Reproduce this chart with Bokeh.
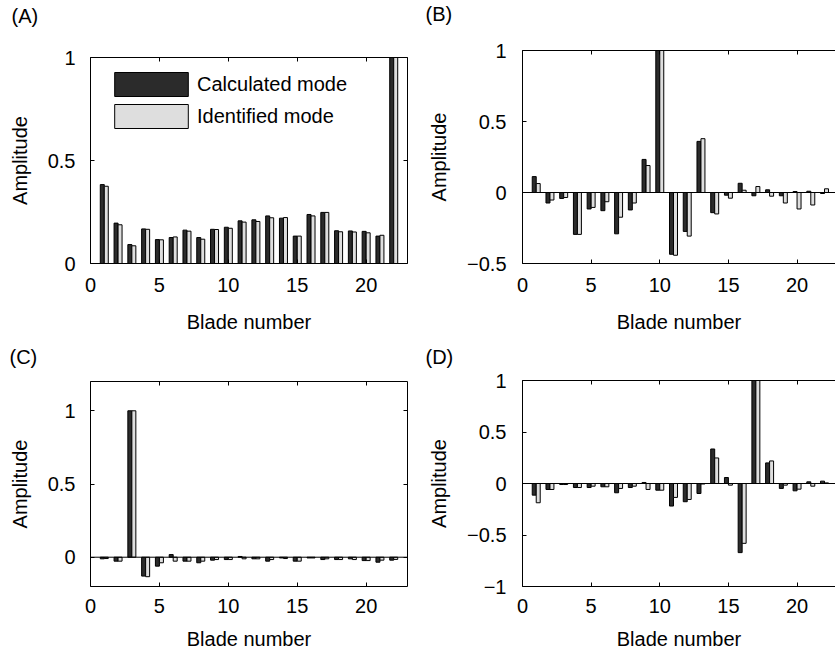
from bokeh.plotting import figure
from bokeh.models import (Range1d, LinearAxis, FixedTicker, Span, Title,
                          Legend, LegendItem, ColumnDataSource, CustomJSTickFormatter)
from bokeh.layouts import column, row
from bokeh.transform import dodge
from bokeh.embed import file_html
from bokeh.resources import INLINE

blades = list(range(1, 23))
x_ticks = [0, 5, 10, 15, 20]

a_calc = [0.383, 0.196, 0.092, 0.168, 0.116, 0.126, 0.162, 0.126, 0.166, 0.176, 0.207,
          0.212, 0.231, 0.220, 0.133, 0.238, 0.248, 0.159, 0.158, 0.156, 0.133, 1.0]
a_ident = [0.375, 0.188, 0.086, 0.166, 0.115, 0.129, 0.157, 0.118, 0.165, 0.171, 0.201,
           0.204, 0.222, 0.223, 0.133, 0.231, 0.248, 0.154, 0.153, 0.149, 0.137, 1.0]

b_calc = [0.112, -0.074, -0.042, -0.295, -0.116, -0.128, -0.291, -0.123, 0.233, 1.0, -0.435,
          -0.274, 0.36, -0.142, -0.019, 0.065, -0.023, 0.019, -0.023, 0.007, 0.009, -0.007]
b_ident = [0.063, -0.053, -0.035, -0.295, -0.105, -0.065, -0.174, -0.074, 0.19, 1.0, -0.442,
           -0.307, 0.379, -0.151, -0.04, 0.016, 0.042, -0.026, -0.074, -0.116, -0.088, 0.026]

c_calc = [-0.011, -0.027, 1.0, -0.129, -0.061, 0.018, -0.027, -0.038, -0.02, -0.016, 0.005,
          -0.011, -0.027, -0.005, -0.027, -0.005, -0.016, -0.016, -0.011, -0.023, -0.034, -0.02]
c_ident = [-0.009, -0.027, 1.0, -0.133, -0.038, -0.027, -0.027, -0.027, -0.016, -0.016, -0.011,
           -0.011, -0.016, -0.009, -0.027, -0.005, -0.011, -0.016, -0.016, -0.023, -0.02, -0.015]

d_calc = [-0.113, -0.058, -0.01, -0.039, -0.039, -0.032, -0.09, -0.039, 0.01, -0.065, -0.219,
          -0.177, -0.097, 0.335, 0.058, -0.671, 1.0, 0.2, -0.048, -0.071, 0.016, 0.023]
d_ident = [-0.187, -0.058, -0.01, -0.039, -0.026, -0.032, -0.048, -0.026, -0.058, -0.065, -0.135,
           -0.155, -0.005, 0.248, -0.016, -0.581, 1.0, 0.219, -0.016, -0.055, -0.026, 0.006]

labels_map = {-1: "\u22121", -0.5: "\u22120.5", 0: "0", 0.5: "0.5", 1: "1"}

FONT = "Liberation Sans"
DARK = "#2b2b2b"
LIGHT = "#dedede"


def style_axis(ax, ticks, standoff, show_labels=True):
    ax.ticker = FixedTicker(ticks=ticks)
    ax.major_tick_in = 4
    ax.major_tick_out = 0
    ax.minor_tick_line_color = None
    ax.axis_line_color = "black"
    ax.major_tick_line_color = "black"
    ax.major_label_text_color = "black"
    ax.major_label_text_font = FONT
    ax.axis_label_text_font = FONT
    ax.axis_label_text_font_style = "normal"
    ax.axis_label_text_color = "black"
    ax.axis_label_text_font_size = "20px"
    ax.major_label_standoff = standoff
    if show_labels:
        ax.major_label_text_font_size = "20px"
        ax.major_label_overrides = {k: v for k, v in labels_map.items() if k in ticks}
    else:
        ax.formatter = CustomJSTickFormatter(code="return ''")
        ax.major_label_text_font_size = "1px"


def panel(calc, ident, y0, y1, yticks, width, height, bl, br, bt, bb, x_end,
          letter, letter_off, letter_lift, box, ystand, xstand, xlstand,
          zero_line, legend=False):
    p = figure(width=width, height=height, x_range=Range1d(0, x_end),
               y_range=Range1d(y0, y1), output_backend="svg", toolbar_location=None,
               min_border_left=bl, min_border_right=br, min_border_top=bt,
               min_border_bottom=bb, frame_align=False)
    p.grid.visible = False
    p.outline_line_color = None
    p.background_fill_color = "white"
    p.border_fill_color = "white"

    src = ColumnDataSource(dict(blade=blades, calc=calc, ident=ident))
    r1 = p.vbar(x=dodge("blade", -0.145, range=p.x_range), top="calc", bottom=0,
                width=0.29, source=src, fill_color=DARK, line_color="black", line_width=1)
    r2 = p.vbar(x=dodge("blade", 0.145, range=p.x_range), top="ident", bottom=0,
                width=0.29, source=src, fill_color=LIGHT, line_color="black", line_width=1)

    if zero_line:
        p.add_layout(Span(location=0, dimension="width", line_color="black", line_width=1))

    style_axis(p.xaxis[0], x_ticks, xstand)
    p.xaxis[0].axis_label = "Blade number"
    p.xaxis[0].axis_label_standoff = xlstand
    style_axis(p.yaxis[0], yticks, ystand)
    p.yaxis[0].axis_label = "Amplitude"
    p.yaxis[0].axis_label_standoff = 14

    top_ax = LinearAxis()
    style_axis(top_ax, x_ticks, 0, show_labels=False)
    top_ax.axis_label = " "
    top_ax.axis_label_text_font_size = "1px"
    top_ax.axis_label_standoff = letter_lift
    p.add_layout(top_ax, "above")
    if box:
        right_ax = LinearAxis()
        style_axis(right_ax, yticks, 0, show_labels=False)
        p.add_layout(right_ax, "right")

    p.add_layout(Title(text=letter, align="left", offset=letter_off, standoff=0,
                       text_font=FONT, text_font_size="20px",
                       text_font_style="normal", text_color="black"), "above")

    if legend:
        lg = Legend(items=[LegendItem(label="Calculated mode", renderers=[r1]),
                           LegendItem(label="Identified mode", renderers=[r2])],
                    location=(15, 132), glyph_width=92, glyph_height=30, spacing=2,
                    padding=0, margin=0, border_line_color=None,
                    background_fill_alpha=0, label_text_font=FONT,
                    label_text_font_size="20px", label_text_color="black",
                    label_standoff=0, label_height=30)
        p.add_layout(lg)
    return p


pA = panel(a_calc, a_ident, 0, 1, [0, 0.5, 1], 420, 343, 90, 13, 57, 80, 23,
           "(A)", -79, 27, True, 15, 14, 16, False, legend=True)
pB = panel(b_calc, b_ident, -0.5, 1, [-0.5, 0, 0.5, 1], 415, 343, 102, 0, 49, 80, 22.8,
           "(B)", -97, 22, False, 16, 14, 16, True)
pC = panel(c_calc, c_ident, -0.2, 1.2, [0, 0.5, 1], 420, 312, 90, 13, 38, 69, 23,
           "(C)", -81, 10, True, 15, 12, 12, True)
pD = panel(d_calc, d_ident, -1, 1, [-1, -0.5, 0, 0.5, 1], 415, 312, 102, 0, 37, 69, 22.8,
           "(D)", -97, 9, False, 16, 12, 12, True)

layout = column(row(pA, pB), row(pC, pD))
open("out.html", "w").write(file_html(layout, INLINE))
